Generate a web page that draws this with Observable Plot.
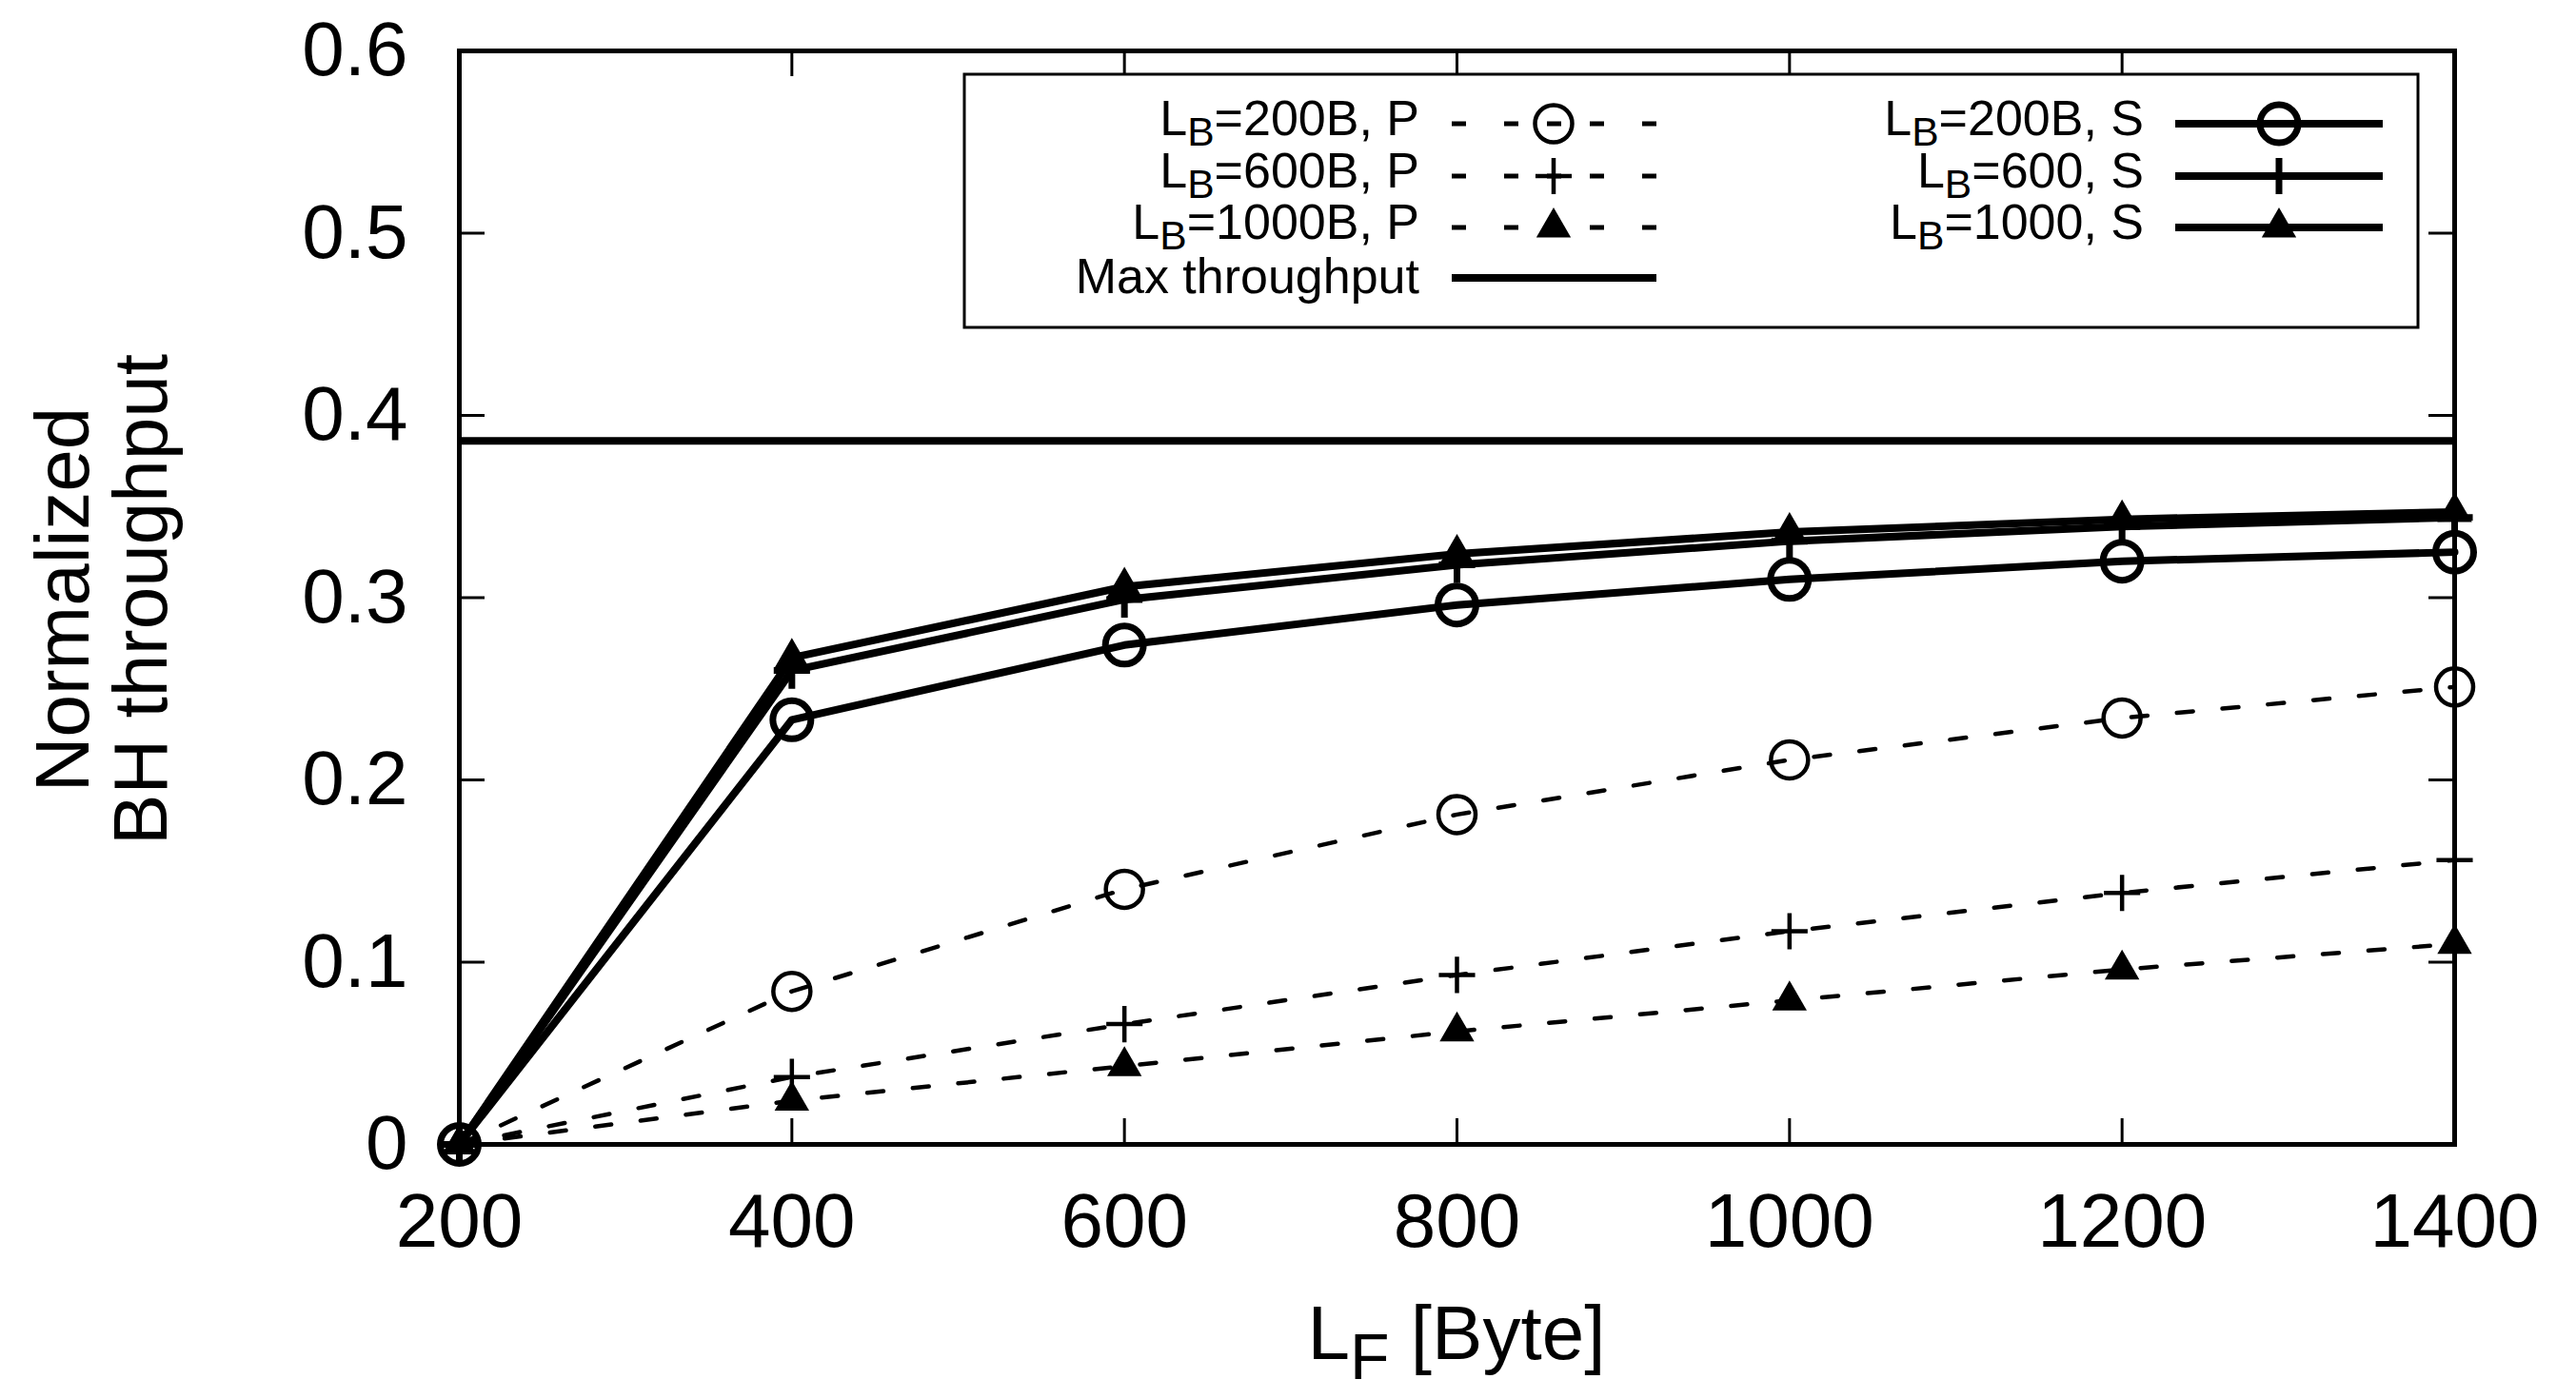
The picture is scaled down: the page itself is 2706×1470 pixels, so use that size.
<!DOCTYPE html>
<html><head><meta charset="utf-8">
<script src="https://cdn.jsdelivr.net/npm/d3@7"></script>
<script src="https://cdn.jsdelivr.net/npm/@observablehq/plot@0.6"></script>
<style>html,body{margin:0;padding:0;background:#fff;} svg{display:block}</style>
</head><body><div id="chart"></div>
<script>
// ---- data ----
const lf = [200, 400, 600, 800, 1000, 1200, 1400];
const p200  = [0, 0.084, 0.140, 0.181, 0.211, 0.234, 0.251];
const p600  = [0, 0.037, 0.066, 0.093, 0.117, 0.138, 0.156];
const p1000 = [0, 0.024, 0.043, 0.062, 0.079, 0.096, 0.110];
const s200  = [0, 0.233, 0.274, 0.296, 0.310, 0.320, 0.325];
const s600  = [0, 0.260, 0.299, 0.318, 0.331, 0.339, 0.344];
const s1000 = [0, 0.267, 0.306, 0.324, 0.336, 0.343, 0.347];
const maxThroughput = 0.386;
const xTicks = [200, 400, 600, 800, 1000, 1200, 1400];
const yTicks = [0, 0.1, 0.2, 0.3, 0.4, 0.5, 0.6];
const yTickLabels = ["0", "0.1", "0.2", "0.3", "0.4", "0.5", "0.6"];
const legendLeft = [
  {main: "L", sub: "B", rest: "=200B, P", kind: "P", symbol: "circle"},
  {main: "L", sub: "B", rest: "=600B, P", kind: "P", symbol: "plus"},
  {main: "L", sub: "B", rest: "=1000B, P", kind: "P", symbol: "triangle"},
  {main: "Max throughput", sub: "", rest: "", kind: "M", symbol: null}
];
const legendRight = [
  {main: "L", sub: "B", rest: "=200B, S", kind: "S", symbol: "circle"},
  {main: "L", sub: "B", rest: "=600, S", kind: "S", symbol: "plus"},
  {main: "L", sub: "B", rest: "=1000, S", kind: "S", symbol: "triangle"}
];
const xLabel = {main: "L", sub: "F", rest: " [Byte]"};
const yLabelLines = ["Normalized", "BH throughput"];

// ---- layout ----
const W = 2706, H = 1470, mL = 482, mR = 128, mT = 53, mB = 268;
const plotW = W - mL - mR, plotH = H - mT - mB;
const tickLen = 27;
const FONT = "Liberation Sans, Arial, Helvetica, sans-serif";

const series = [
  {values: p200, kind: "P", symbol: "circle"},
  {values: p600, kind: "P", symbol: "plus"},
  {values: p1000, kind: "P", symbol: "triangle"},
  {values: s200, kind: "S", symbol: "circle"},
  {values: s600, kind: "S", symbol: "plus"},
  {values: s1000, kind: "S", symbol: "triangle"}
];

const style = {
  P: {lineWidth: 4.5, dash: "17,31", markerStroke: 4.5, circleR: 19.5},
  S: {lineWidth: 8, dash: null, markerStroke: 7, circleR: 20}
};

function dotMark(data, kind, symbol) {
  const st = style[kind];
  if (symbol === "circle") return Plot.dot(data, {x: "x", y: "y", r: st.circleR, stroke: "black", strokeWidth: st.markerStroke, fill: "none"});
  if (symbol === "plus") return Plot.dot(data, {x: "x", y: "y", symbol: "plus", r: 12.3, stroke: "black", strokeWidth: st.markerStroke, fill: "none"});
  return Plot.dot(data, {x: "x", y: "y", symbol: "triangle", r: 13.5, fill: "black", stroke: "none"});
}

const marks = [];
// ticks, mirrored on all sides, pointing inward
marks.push(Plot.tickX(xTicks, {x: d => d, insetTop: plotH - tickLen, stroke: "black", strokeWidth: 3}));
marks.push(Plot.tickX(xTicks, {x: d => d, insetBottom: plotH - tickLen, stroke: "black", strokeWidth: 3}));
marks.push(Plot.tickY(yTicks, {y: d => d, insetRight: plotW - tickLen, stroke: "black", strokeWidth: 3}));
marks.push(Plot.tickY(yTicks, {y: d => d, insetLeft: plotW - tickLen, stroke: "black", strokeWidth: 3}));

for (const s of series) {
  const data = lf.map((x, i) => ({x, y: s.values[i]}));
  const st = style[s.kind];
  marks.push(Plot.line(data, {x: "x", y: "y", stroke: "black", strokeWidth: st.lineWidth, strokeDasharray: st.dash, strokeLinejoin: "round"}));
  marks.push(dotMark(data, s.kind, s.symbol));
}
marks.push(Plot.ruleY([maxThroughput], {stroke: "black", strokeWidth: 8}));
marks.push(Plot.frame({stroke: "black", strokeWidth: 5}));
marks.push(Plot.axisX({ticks: xTicks, tickSize: 0, tickPadding: 51, fontSize: 80, label: null, tickFormat: d => String(d)}));
marks.push(Plot.axisY({ticks: yTicks, tickSize: 0, tickPadding: 54, fontSize: 80, label: null, tickFormat: d => yTickLabels[yTicks.indexOf(d)]}));

const chart = Plot.plot({
  width: W, height: H,
  marginLeft: mL, marginRight: mR, marginTop: mT, marginBottom: mB,
  x: {domain: [200, 1400]},
  y: {domain: [0, 0.6]},
  style: {fontFamily: FONT, fontSize: "80px", color: "black", background: "white"},
  marks
});
document.getElementById("chart").appendChild(chart);

// ---- labels & legend ----
const svg = d3.select(chart);
function richText(g, item, x, y, size, anchor, subScale, subShift) {
  const t = g.append("text").attr("x", x).attr("y", y)
    .attr("text-anchor", anchor).attr("font-family", FONT).attr("font-size", size).attr("fill", "black");
  t.append("tspan").text(item.main);
  if (item.sub) {
    const shift = size * subShift;
    t.append("tspan").attr("dy", shift).attr("font-size", size * subScale).text(item.sub);
    t.append("tspan").attr("dy", -shift).text(item.rest);
  }
  return t;
}

// x label
richText(svg.append("g"), xLabel, mL + plotW / 2, 1428, 80, "middle", 0.85, 0.26);
// y label
const yl = svg.append("g");
const ylBase = [93, 175];
yLabelLines.forEach((line, i) => {
  yl.append("text").attr("transform", `translate(${ylBase[i]},630) rotate(-90)`)
    .attr("text-anchor", "middle").attr("font-family", FONT).attr("font-size", 80).attr("fill", "black").text(line);
});

// legend box
const lg = svg.append("g");
lg.append("rect").attr("x", 1013).attr("y", 78).attr("width", 2540 - 1013).attr("height", 344 - 78)
  .attr("fill", "white").attr("stroke", "black").attr("stroke-width", 3);
const rowLine = [130, 185, 239, 292];
const rowBase = [142, 197, 251, 308];

function legendMarker(g, kind, symbol, cx, cy) {
  const st = style[kind];
  if (symbol === "circle") {
    g.append("circle").attr("cx", cx).attr("cy", cy).attr("r", st.circleR)
      .attr("fill", "none").attr("stroke", "black").attr("stroke-width", st.markerStroke);
  } else if (symbol === "plus") {
    g.append("path").attr("transform", `translate(${cx},${cy})`)
      .attr("d", d3.symbol(d3.symbolPlus, Math.PI * 12.3 * 12.3)())
      .attr("fill", "none").attr("stroke", "black").attr("stroke-width", st.markerStroke);
  } else if (symbol === "triangle") {
    g.append("path").attr("transform", `translate(${cx},${cy})`)
      .attr("d", d3.symbol(d3.symbolTriangle, Math.PI * 13.5 * 13.5)())
      .attr("fill", "black");
  }
}

function legendColumn(items, textEnd, x1, x2, mx) {
  items.forEach((it, i) => {
    richText(lg, it, textEnd, rowBase[i], 52, "end", 0.82, 0.22);
    const y = rowLine[i];
    const line = lg.append("line").attr("x1", x1).attr("x2", x2).attr("y1", y).attr("y2", y)
      .attr("stroke", "black");
    if (it.kind === "P") {
      line.attr("stroke-width", 5).attr("stroke-dasharray", "15,40,15,30,15,30,15,40");
    } else {
      line.attr("stroke-width", 8);
    }
    if (it.symbol) legendMarker(lg, it.kind, it.symbol, mx, y);
  });
}
legendColumn(legendLeft, 1491, 1525, 1740, 1632);
legendColumn(legendRight, 2252, 2285, 2503, 2394);
</script>
</body></html>
